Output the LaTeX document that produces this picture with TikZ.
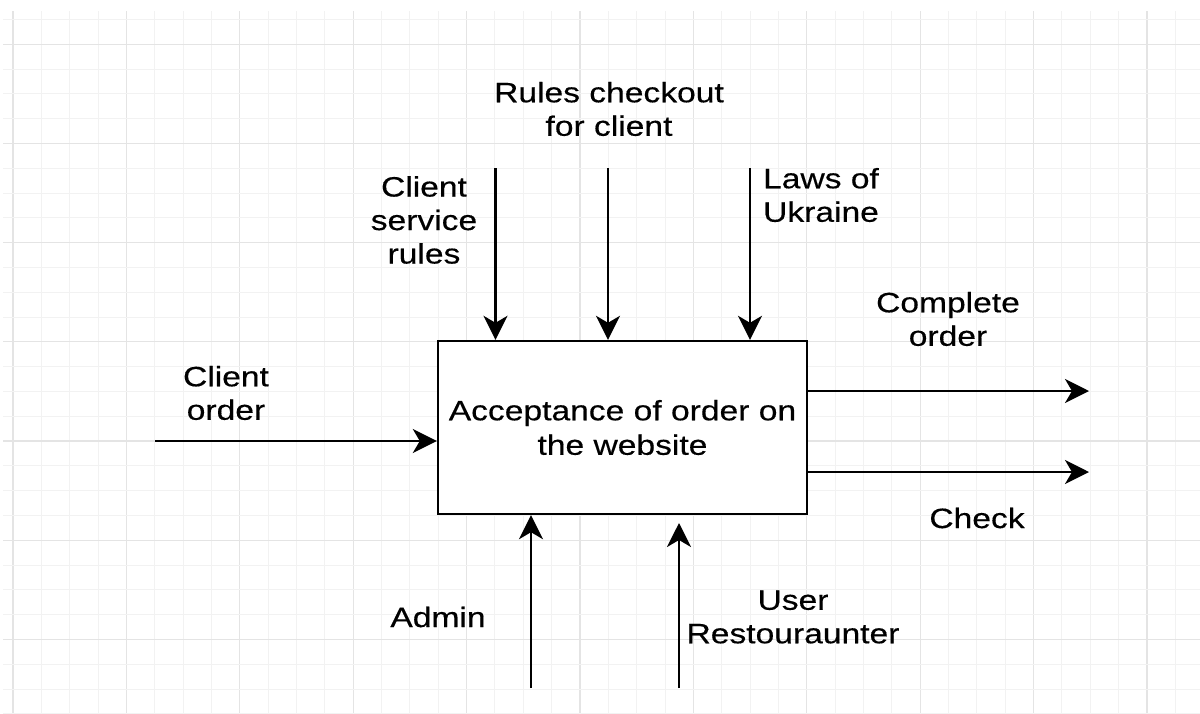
\documentclass[tikz,border=0pt]{standalone}
\usepackage{fontspec}
\setmainfont[FakeStretch=1.2,FakeBold=0.4]{Liberation Sans}
\usetikzlibrary{arrows.meta}
\definecolor{gridmajor}{RGB}{228,228,228}
\definecolor{gridminor}{RGB}{242,242,242}
\tikzset{
  conn/.style={line width=2.4pt, -{Stealth[length=24pt,width=24pt,inset=7pt]}},
  lbl/.style={align=center, inner sep=0pt, font=\fontsize{28}{33.5}\selectfont},
  procbox/.style={draw, line width=2.4pt, fill=white, minimum width=369pt, minimum height=173pt, inner sep=0pt, align=center, font=\fontsize{28}{34.5}\selectfont}
}
\begin{document}
\begin{tikzpicture}[x=1pt,y=-1pt]
\useasboundingbox (0,0) rectangle (1200,713);
\fill[white] (0,0) rectangle (1200,713);
% grid
\foreach \i in {0,...,42} {
  \pgfmathsetmacro{\xx}{13+28.35*\i}
  \pgfmathtruncatemacro{\m}{mod(\i,4)}
  \ifnum\m=0
    \draw[gridmajor, line width=1.2pt] (\xx,11) -- (\xx,713);
  \else
    \draw[gridminor, line width=1pt] (\xx,11) -- (\xx,713);
  \fi
}
\foreach \j in {0,...,28} {
  \pgfmathsetmacro{\yy}{19.4+24.8*\j}
  \pgfmathtruncatemacro{\m}{mod(\j+3,4)}
  \ifnum\m=0
    \draw[gridmajor, line width=1.2pt] (3,\yy) -- (1200,\yy);
  \else
    \draw[gridminor, line width=1pt] (3,\yy) -- (1200,\yy);
  \fi
}
% process box
\node[procbox] (proc) at (622.5,427.5) {Acceptance of order on\\the website};
% free ends
\coordinate (t1) at (495.5,168);
\coordinate (t2) at (608,168);
\coordinate (t3) at (750,168);
\coordinate (in1) at (155,441);
\coordinate (o1) at (1089,391);
\coordinate (o2) at (1089,472);
\coordinate (b1) at (531,688);
\coordinate (b2) at (679,688);
\coordinate (b2tip) at (679,523);
% connectors
\draw[conn] (t1) -- (t1 |- proc.north);
\draw[conn] (t2) -- (t2 |- proc.north);
\draw[conn] (t3) -- (t3 |- proc.north);
\draw[conn] (in1) -- (in1 -| proc.west);
\draw[conn] (o1 -| proc.east) -- (o1);
\draw[conn] (o2 -| proc.east) -- (o2);
\draw[conn] (b1) -- (b1 |- proc.south);
\draw[conn] (b2) -- (b2tip);
% labels
\node[lbl] (lrules) at (609,109) {Rules checkout\\for client};
\node[lbl] (lservice) at (424,220) {Client\\service\\rules};
\node[lbl] (llaws) at (821,195) {Laws of\\Ukraine};
\node[lbl] (lcomplete) at (948,319) {Complete\\order};
\node[lbl] (lclient) at (226,393) {Client\\order};
\node[lbl] (lcheck) at (977,518) {Check};
\node[lbl] (ladmin) at (438,617) {Admin};
\node[lbl] (luser) at (793,617) {User\\Restouraunter};
\end{tikzpicture}
\end{document}
